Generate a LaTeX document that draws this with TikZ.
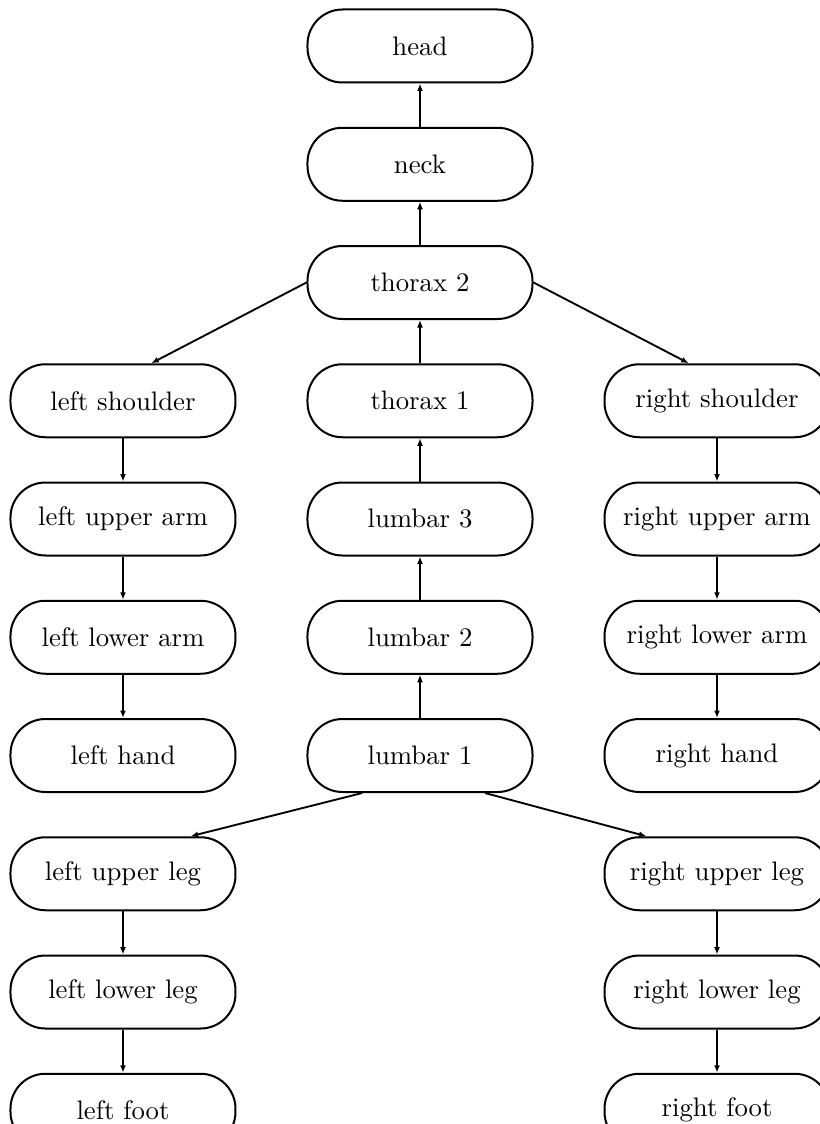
\documentclass[tikz,border=0pt]{standalone}
\usepackage{tikz}
\usetikzlibrary{positioning, arrows.meta}
\tikzset{
    ->, % every connector gets a tip
    >={Latex[length=3pt,width=2.4pt]}, % small filled tips
    part/.style={draw, line width=0.8pt, rounded corners=14pt, minimum width=90pt, minimum height=29.2pt, inner sep=2pt, font=\fontsize{10.7}{13}\selectfont}, % one body segment
    every edge/.style={draw, line width=0.75pt}, % the connectors
    node distance=17.3pt and 28pt, % gaps between the segments
}
\begin{document}
\begin{tikzpicture}
    \useasboundingbox (-168pt,-431.2pt) rectangle (159.6pt,18.4pt);
    % spine
    \node[part] (head) {head};
    \node[part, below=of head] (neck) {neck};
    \node[part, below=of neck] (th2) {thorax 2};
    \node[part, below=of th2] (th1) {thorax 1};
    \node[part, below=of th1] (lb3) {lumbar 3};
    \node[part, below=of lb3] (lb2) {lumbar 2};
    \node[part, below=of lb2] (lb1) {lumbar 1};
    % left side
    \node[part, left=of th1] (lsh) {left shoulder};
    \node[part, below=of lsh] (lua) {left upper arm};
    \node[part, below=of lua] (lla) {left lower arm};
    \node[part, below=of lla] (lha) {left hand};
    \node[part, below=of lha] (lul) {left upper leg};
    \node[part, below=of lul] (lll) {left lower leg};
    \node[part, below=of lll] (lft) {left foot};
    % right side
    \node[part, right=of th1] (rsh) {right shoulder};
    \node[part, below=of rsh] (rua) {right upper arm};
    \node[part, below=of rua] (rla) {right lower arm};
    \node[part, below=of rla] (rha) {right hand};
    \node[part, below=of rha] (rul) {right upper leg};
    \node[part, below=of rul] (rll) {right lower leg};
    \node[part, below=of rll] (rft) {right foot};
    \path (neck) edge (head)
    (th2) edge (neck)
    (th1) edge (th2)
    (lb3) edge (th1)
    (lb2) edge (lb3)
    (lb1) edge (lb2)
    (th2.west) edge (lsh.53)
    (th2.east) edge (rsh.127)
    (lsh) edge (lua)
    (lua) edge (lla)
    (lla) edge (lha)
    (rsh) edge (rua)
    (rua) edge (rla)
    (rla) edge (rha)
    (lb1.213) edge (lul.29)
    (lb1.330) edge (rul.152)
    (lul) edge (lll)
    (lll) edge (lft)
    (rul) edge (rll)
    (rll) edge (rft);
\end{tikzpicture}
\end{document}
